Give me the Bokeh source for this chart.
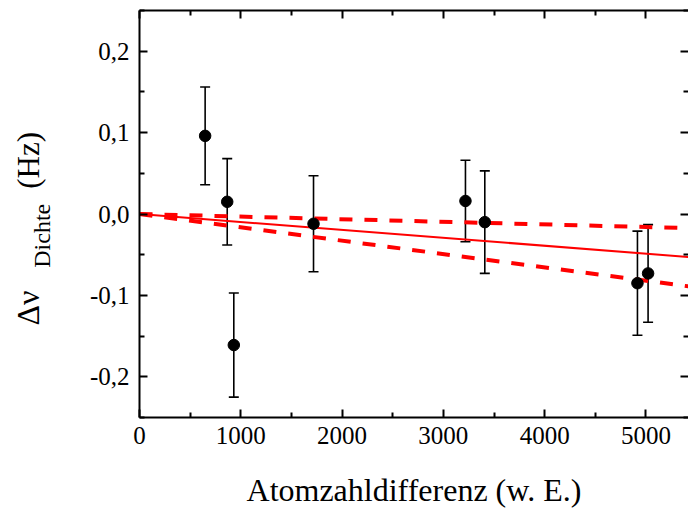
import math
from bokeh.plotting import figure
from bokeh.layouts import row
from bokeh.models import (Range1d, LinearAxis, FixedTicker, CustomJSTickFormatter,
                          ColumnDataSource, CustomLabelingPolicy)
from bokeh.core.properties import value
from bokeh.embed import file_html
from bokeh.resources import INLINE

# ---- data ----
atom_diff = [648, 866, 931, 1718, 3218, 3409, 4916, 5021]
delta_nu = [0.096, 0.015, -0.161, -0.012, 0.016, -0.010, -0.085, -0.073]
delta_nu_err = [0.060, 0.053, 0.064, 0.059, 0.050, 0.063, 0.064, 0.060]

fit_slope = -9.75e-6          # solid line through origin
fit_slope_upper = -3.2e-6     # dashed bound
fit_slope_lower = -1.64e-5    # dashed bound

x_ticks = [0, 1000, 2000, 3000, 4000, 5000]
x_minor = [500, 1500, 2500, 3500, 4500, 5500]
y_ticks = [-0.2, -0.1, 0.0, 0.1, 0.2]
y_minor = [-0.25, -0.15, -0.05, 0.05, 0.15, 0.25]

y_title_parts = ["Δν", "Dichte", "(Hz)"]

X_END = 5420
Y_MIN, Y_MAX = -0.25, 0.25
FONT = "Liberation Serif"
H = 510
LW = 62   # width of the strip that carries the y-axis title

yrange = Range1d(Y_MIN, Y_MAX)

p = figure(width=688 - LW, height=H, output_backend="svg", toolbar_location=None,
           x_range=Range1d(0, X_END), y_range=yrange,
           min_border_left=139 - LW, min_border_right=0, min_border_top=10,
           min_border_bottom=92, x_axis_location=None, y_axis_location=None)
p.outline_line_color = None
p.xgrid.visible = False
p.ygrid.visible = False
p.background_fill_color = "white"
p.border_fill_color = "white"

xfmt = CustomJSTickFormatter(code="return tick.toFixed(0);")
yfmt = CustomJSTickFormatter(code="return tick.toFixed(1).replace('.', ',');")
no_labels = CustomLabelingPolicy(code="""
const out = [];
for (const i of indices) out.push(i);
for (const i of out) indices.unset(i);
return indices;
""")


def style_axis(ax, show_labels):
    ax.axis_line_color = "black"
    ax.axis_line_width = 2
    ax.major_tick_in = 8
    ax.major_tick_out = 0
    ax.minor_tick_in = 5
    ax.minor_tick_out = 0
    ax.major_tick_line_width = 2
    ax.minor_tick_line_width = 2
    ax.major_tick_line_color = "black"
    ax.minor_tick_line_color = "black"
    ax.major_label_text_font = FONT
    ax.major_label_text_color = "black"
    if show_labels:
        ax.major_label_text_font_size = "25px"
    else:
        ax.major_label_text_font_size = "0px"
        ax.major_label_standoff = 0
        ax.major_label_policy = no_labels


xb = LinearAxis(ticker=FixedTicker(ticks=x_ticks, minor_ticks=x_minor), formatter=xfmt)
style_axis(xb, True)
xb.major_label_standoff = 9
xb.axis_label = "Atomzahldifferenz (w. E.)"
xb.axis_label_text_font = FONT
xb.axis_label_text_font_size = "32px"
xb.axis_label_text_font_style = "normal"
xb.axis_label_text_color = "black"
xb.axis_label_standoff = 25
p.add_layout(xb, "below")

xt = LinearAxis(ticker=FixedTicker(ticks=x_ticks, minor_ticks=x_minor), formatter=xfmt)
style_axis(xt, False)
p.add_layout(xt, "above")

yl = LinearAxis(ticker=FixedTicker(ticks=y_ticks, minor_ticks=y_minor), formatter=yfmt)
style_axis(yl, True)
yl.major_label_standoff = 10
p.add_layout(yl, "left")

yr = LinearAxis(ticker=FixedTicker(ticks=y_ticks, minor_ticks=y_minor), formatter=yfmt)
style_axis(yr, False)
yr.axis_line_alpha = 0
p.add_layout(yr, "right")

# ---- error bars ----
src = ColumnDataSource(dict(
    x=atom_diff, y=delta_nu,
    lo=[v - e for v, e in zip(delta_nu, delta_nu_err)],
    hi=[v + e for v, e in zip(delta_nu, delta_nu_err)],
))
p.segment(x0="x", y0="lo", x1="x", y1="hi", source=src, line_color="black", line_width=1.6)
p.scatter(x="x", y="lo", source=src, marker="dash", size=10, line_color="black", line_width=1.6)
p.scatter(x="x", y="hi", source=src, marker="dash", size=10, line_color="black", line_width=1.6)

# ---- fit lines ----
fx = [0, X_END]
p.line(fx, [fit_slope * v for v in fx], line_color="#ff0000", line_width=2)
p.line(fx, [fit_slope_upper * v for v in fx], line_color="#ff0000", line_width=4, line_dash="13 12")
p.line(fx, [fit_slope_lower * v for v in fx], line_color="#ff0000", line_width=4, line_dash="13 12")

# ---- points ----
p.scatter(x="x", y="y", source=src, marker="circle", size=11.5, fill_color="black", line_color="black")

# ---- strip with the y-axis title: x in pixels of the strip, y shares the data axis ----
t = figure(width=LW, height=H, output_backend="svg", toolbar_location=None,
           x_range=Range1d(0, LW), y_range=yrange,
           min_border_left=0, min_border_right=0, min_border_top=10, min_border_bottom=92,
           x_axis_location=None, y_axis_location=None)
t.outline_line_color = None
t.xgrid.visible = False
t.ygrid.visible = False
t.border_fill_color = "white"
t.background_fill_color = "white"
ang = math.pi / 2
t.text(x=[27], y=[-0.137], text=[y_title_parts[0]], angle=ang,
       text_font=value(FONT), text_font_size="32px", text_color="black",
       text_baseline="alphabetic", text_align="left")
t.text(x=[41], y=[-0.066], text=[y_title_parts[1]], angle=ang,
       text_font=value(FONT), text_font_size="24px", text_color="black",
       text_baseline="alphabetic", text_align="left")
t.text(x=[28], y=[0.031], text=[y_title_parts[2]], angle=ang,
       text_font=value(FONT), text_font_size="31px", text_color="black",
       text_baseline="alphabetic", text_align="left")

layout = row(t, p, spacing=0)
open("out.html", "w").write(file_html(layout, INLINE))
